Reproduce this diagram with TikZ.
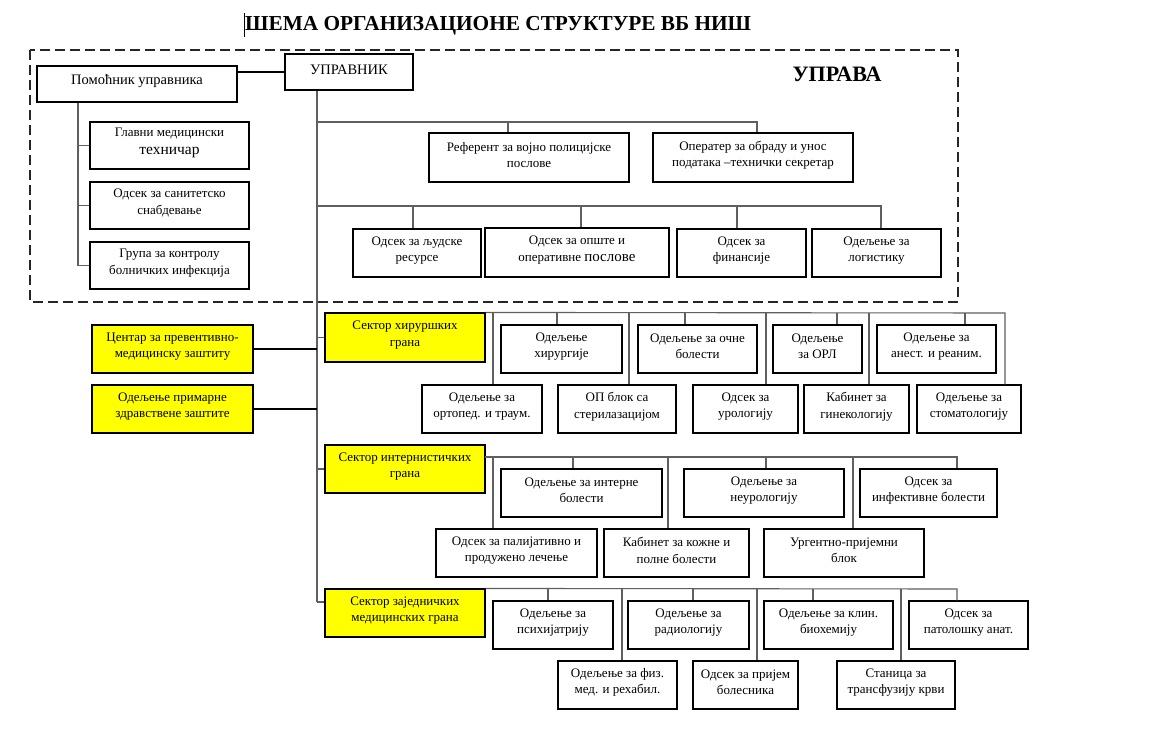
\documentclass[tikz,border=0pt]{standalone}
\usepackage{fontspec}
\setmainfont{Liberation Serif}
\definecolor{conn}{RGB}{95,95,95}
\definecolor{ybox}{RGB}{255,255,0}
\tikzset{
  wbox/.style={draw=black, line width=1.1pt, fill=white, inner sep=0pt, rectangle},
  ybx/.style={wbox, fill=ybox},
  txt/.style={align=center, inner sep=0pt, font=\fontsize{13}{16.5}\selectfont},
  link/.style={draw=conn, line width=1.1pt},
  blink/.style={draw=black, line width=1.1pt},
}
\newcommand\orgbox[7][wbox]{%
  \node[#1, minimum width={(#5-#3)*1pt}, minimum height={(#6-#4)*1pt}] (#2) at ({(#3+#5)/2},{(#4+#6)/2}) {};
  \node[txt] at ([yshift=2.5pt]#2.center) {#7};}
\begin{document}
\begin{tikzpicture}[x=1pt,y=-1pt]
\useasboundingbox[fill=white] (0,0) rectangle (1152,742);
% title
\node[anchor=west, inner sep=0pt, font=\fontsize{21.3}{24}\selectfont\bfseries] (title) at (245,26) {ШЕМА ОРГАНИЗАЦИОНЕ СТРУКТУРЕ ВБ НИШ};
\draw[line width=0.8pt] (244.5,13) -- (244.5,37);
% dashed frame
\draw[draw=black!85, line width=1.2pt, dash pattern=on 10pt off 5pt] (30,50) rectangle (958,302);
\node[inner sep=0pt, font=\fontsize{22}{24}\selectfont\bfseries] (uprava) at (837,74) {УПРАВА};
% top boxes
\orgbox{upr}{285}{54}{413}{90}{\fontsize{14.5}{16}\selectfont УПРАВНИК}
\orgbox{pom}{37}{66}{237}{102}{\fontsize{14.5}{16}\selectfont Помоћник управника}
\orgbox{glavni}{90}{122}{249}{169}{Главни медицински\\[1pt]{\fontsize{15.5}{16}\selectfont техничар}}
\orgbox{sanit}{90}{182}{249}{229}{Одсек за санитетско\\снабдевање}
\orgbox{grupa}{90}{242}{249}{289}{Група за контролу\\болничких инфекција}
\orgbox{ref}{429}{133}{629}{182}{Референт за војно полицијске\\послове}
\orgbox{oper}{653}{133}{853}{182}{Оператер за обраду и унос\\података –технички секретар}
\orgbox{ljud}{353}{229}{481}{277}{Одсек за људске\\ресурсе}
\orgbox{opste}{485}{228}{669}{277}{Одсек за опште и\\[1pt]оперативне {\fontsize{15}{16}\selectfont послове}}
\orgbox{fin}{677}{229}{806}{277}{Одсек за\\финансије}
\orgbox{log}{812}{229}{941}{277}{Одељење за\\логистику}
% coordinates
\coordinate (mv) at (317,0);
\coordinate (lv) at (78,0);
\coordinate (mvend) at (317,602);
% top connectors
\draw[blink] (upr.west -| pom.east) -- (upr.west);
\draw[link] (pom.south -| lv) -- (grupa.west -| lv) -- (grupa.west);
\draw[link] (glavni.west -| lv) -- (glavni.west);
\draw[link] (sanit.west -| lv) -- (sanit.west);
\draw[link] (upr.south -| mv) -- (mvend);
\coordinate (b1a) at (317,122); \coordinate (b1b) at (757,122); \coordinate (d1) at (508,122);
\draw[link] (b1a) -- (b1b) -- (b1b |- oper.north);
\draw[link] (d1) -- (d1 |- ref.north);
\coordinate (b2a) at (317,206); \coordinate (b2b) at (881,206);
\coordinate (d2a) at (413,206); \coordinate (d2b) at (581,206); \coordinate (d2c) at (737,206);
\draw[link] (b2a) -- (b2b) -- (b2b |- log.north);
\draw[link] (d2a) -- (d2a |- ljud.north);
\draw[link] (d2b) -- (d2b |- opste.north);
\draw[link] (d2c) -- (d2c |- fin.north);
% left yellow boxes
\orgbox[ybx]{cent}{92}{325}{253}{373}{Центар за превентивно-\\медицинску заштиту}
\orgbox[ybx]{prim}{92}{385}{253}{433}{Одељење примарне\\здравствене заштите}
\draw[blink] (cent.east) -- (cent.east -| mv);
\draw[blink] (prim.east) -- (prim.east -| mv);
% sector 1
\orgbox[ybx]{shir}{325}{313}{485}{362}{Сектор хируршких\\грана}
\orgbox{hir}{501}{325}{622}{373}{Одељење\\хирургије}
\orgbox{ocne}{638}{325}{757}{373}{Одељење за очне\\болести}
\orgbox{orl}{773}{325}{862}{373}{Одељење\\за ОРЛ}
\orgbox{anest}{877}{325}{996}{373}{Одељење за\\анест. и реаним.}
\orgbox{ort}{422}{385}{542}{433}{Одељење за\\ортопед. и траум.}
\orgbox{opblok}{558}{385}{676}{433}{ОП блок са\\стерилазацијом}
\orgbox{urol}{693}{385}{798}{433}{Одсек за\\урологију}
\orgbox{gin}{804}{385}{909}{433}{Кабинет за\\гинекологију}
\orgbox{stom}{917}{385}{1021}{433}{Одељење за\\стоматологију}
\draw[link] (shir.west -| mv) -- (shir.west);
\coordinate (s1end) at (1005,313);
\draw[link] (shir.north east) -- (s1end) -- (s1end |- stom.north);
\foreach \xx/\tg in {493/ort,557/hir,629/opblok,685/ocne,766/urol,837/orl,869/gin,965/anest}{
  \coordinate (t) at (\xx,313);
  \draw[link] (t) -- (t |- \tg.north);
}
% sector 2
\orgbox[ybx]{sint}{325}{445}{485}{493}{Сектор интернистичких\\грана}
\orgbox{int}{501}{469}{662}{517}{Одељење за интерне\\болести}
\orgbox{neur}{684}{469}{844}{517}{Одељење за\\неурологију}
\orgbox{inf}{860}{469}{997}{517}{Одсек за\\инфективне болести}
\orgbox{pal}{436}{529}{597}{577}{Одсек за палијативно и\\продужено лечење}
\orgbox{koz}{604}{529}{749}{577}{Кабинет за кожне и\\полне болести}
\orgbox{urg}{764}{529}{924}{577}{Ургентно-пријемни\\блок}
\draw[link] (sint.west -| mv) -- (sint.west);
\coordinate (s2a) at (485,457); \coordinate (s2end) at (957,457);
\draw[link] (s2a) -- (s2end) -- (s2end |- inf.north);
\foreach \xx/\tg in {493/pal,573/int,668/koz,766/neur,853/urg}{
  \coordinate (t) at (\xx,457);
  \draw[link] (t) -- (t |- \tg.north);
}
% sector 3
\orgbox[ybx]{szaj}{325}{589}{485}{637}{Сектор заједничких\\медицинских грана}
\orgbox{psih}{493}{601}{613}{649}{Одељење за\\психијатрију}
\orgbox{rad}{628}{601}{749}{649}{Одељење за\\радиологију}
\orgbox{klin}{764}{601}{893}{649}{Одељење за клин.\\биохемију}
\orgbox{pat}{909}{601}{1028}{649}{Одсек за\\патолошку анат.}
\orgbox{fiz}{558}{661}{677}{709}{Одељење за физ.\\мед. и рехабил.}
\orgbox{prij}{693}{661}{798}{709}{Одсек за пријем\\болесника}
\orgbox{trans}{837}{661}{955}{709}{Станица за\\трансфузију крви}
\draw[link] (mvend) -- (mvend -| szaj.west);
\coordinate (s3end) at (957,589);
\draw[link] (szaj.north east) -- (s3end) -- (s3end |- pat.north);
\foreach \xx/\tg in {548/psih,622/fiz,693/rad,757/prij,813/klin,901/trans}{
  \coordinate (t) at (\xx,589);
  \draw[link] (t) -- (t |- \tg.north);
}
\end{tikzpicture}
\end{document}
